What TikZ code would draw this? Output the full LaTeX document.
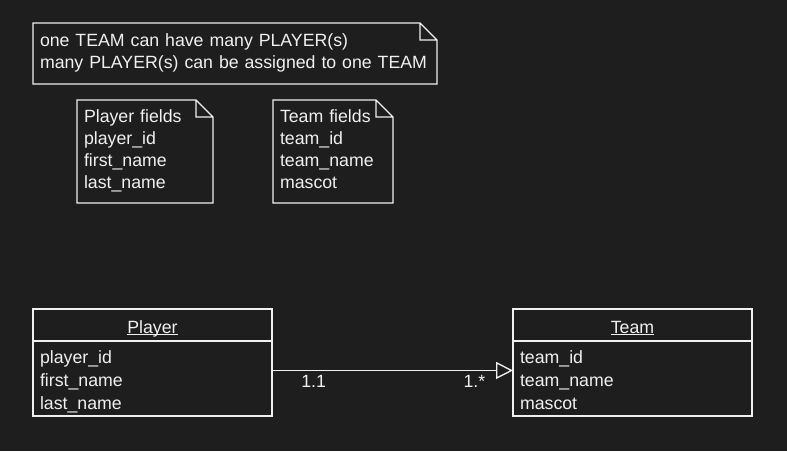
\documentclass[tikz,border=0pt]{standalone}
\usepackage{fontspec}
\setmainfont{Liberation Sans}
\usetikzlibrary{positioning,arrows.meta}
\definecolor{canvas}{RGB}{30,30,30}
\definecolor{ink}{RGB}{240,240,240}
\newlength\ulinewd
\newcommand\ulined[1]{\settowidth\ulinewd{#1}#1\kern-\ulinewd\rule[-1.6pt]{\ulinewd}{0.75pt}}

\begin{document}
\begin{tikzpicture}[x=0.75pt,y=-0.75pt,line width=1pt,color=ink,
  note node/.style={fill=canvas,inner xsep=5.25pt,inner ysep=0pt,outer sep=0pt,align=left,
    font=\fontsize{13.3pt}{16.5pt}\selectfont},
  head node/.style={draw,fill=canvas,minimum width=179.25pt,minimum height=24pt,
    inner sep=0pt,outer sep=0pt,text height=16.9pt,text depth=4.5pt,
    font=\fontsize{13.3pt}{15pt}\selectfont},
  body node/.style={draw,fill=canvas,text width=168.75pt,minimum height=54pt,
    inner xsep=5.25pt,inner ysep=0pt,outer sep=0pt,align=left,
    font=\fontsize{13.3pt}{17.25pt}\selectfont},
  mult/.style={inner sep=0pt,font=\fontsize{13.3pt}{15pt}\selectfont}]
    \fill[canvas] (0,0) rectangle (787,451);
    % notes
    \node[note node,text width=292.5pt,minimum height=45.75pt,anchor=north west](relNote) at (33,23)
      {\strut one TEAM can have many PLAYER(s)\\many PLAYER(s) can be assigned to one TEAM\strut};
    \node[note node,text width=91.5pt,minimum height=77.25pt,
      below right=12pt and 33pt of relNote.south west](playerNote)
      {\strut Player fields\\player\_id\\first\_name\\last\_name\strut};
    \node[note node,text width=79.5pt,minimum height=77.25pt,right=45pt of playerNote](teamNote)
      {\strut Team fields\\team\_id\\team\_name\\mascot\strut};
    \foreach \nm in {relNote,playerNote,teamNote}
      \draw (\nm.north west) -- ([xshift=-12.75pt]\nm.north east) -- ([yshift=-12.75pt]\nm.north east)
        -- (\nm.south east) -- (\nm.south west) -- cycle
        ([xshift=-12.75pt]\nm.north east) |- ([yshift=-12.75pt]\nm.north east);
    % classes
    \node[head node,anchor=north west](player) at (33,309) {\ulined{Player}};
    \node[body node,below=0pt of player](playerAttr)
      {\rule{0pt}{16.5pt}player\_id\\first\_name\\last\_name\strut};
    \node[head node,right=180.75pt of player](team) {\ulined{Team}};
    \node[body node,below=0pt of team](teamAttr)
      {\rule{0pt}{16.5pt}team\_id\\team\_name\\mascot\strut};
    \draw[-{Triangle[open,length=12.75pt,width=12.75pt]}]
      ([yshift=6pt]playerAttr.east) -- ([yshift=6pt]teamAttr.west)
      node[mult,pos=0,below right=3.5pt and 21.5pt]{1.1}
      node[mult,pos=1,below left=3.5pt and 20.3pt]{1.*};
\end{tikzpicture}
\end{document}
